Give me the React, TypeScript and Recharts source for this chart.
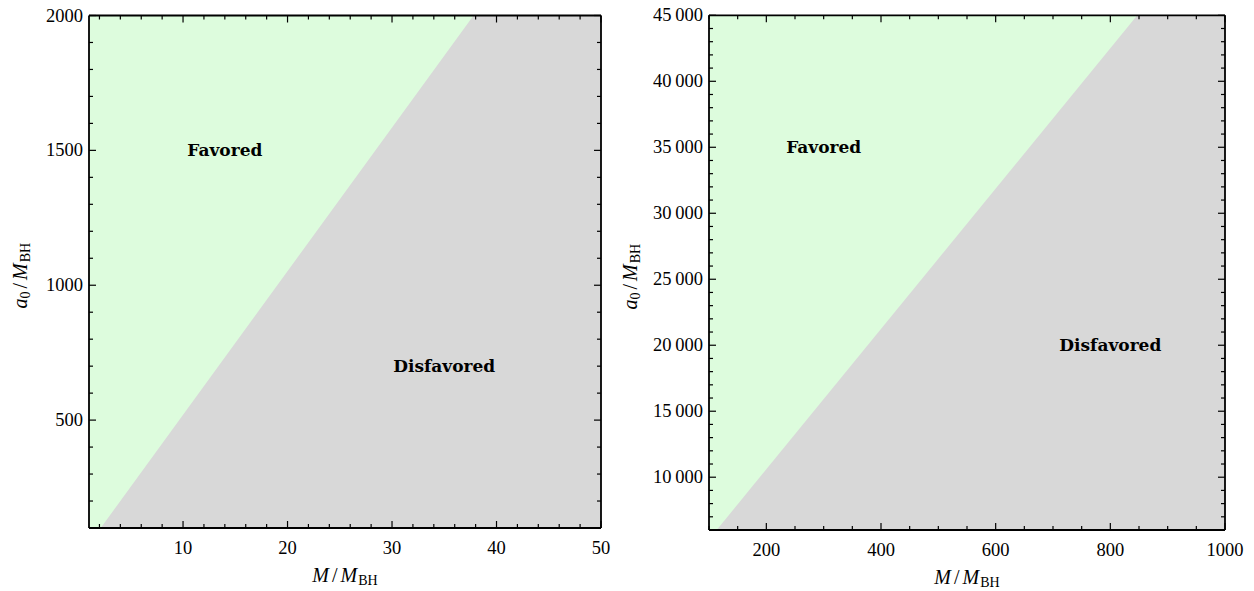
import { ComposedChart, Area, XAxis, YAxis, CartesianGrid, ReferenceDot, Label } from 'recharts'

// Left panel: M/M_BH in [1, 50], a0/M_BH in [100, 2000]
const LEFT_BOUNDARY_M = [2.12, 37.8, 50]
const LEFT_BOUNDARY_A = [100, 2000, 2000]
const LEFT_X_MAJOR = [10, 20, 30, 40, 50]
const LEFT_Y_MAJOR = [500, 1000, 1500, 2000]

// Right panel: M/M_BH in [100, 1000], a0/M_BH in [6000, 45000]
const RIGHT_BOUNDARY_M = [113.4, 847, 1000]
const RIGHT_BOUNDARY_A = [6000, 45000, 45000]
const RIGHT_X_MAJOR = [200, 400, 600, 800, 1000]
const RIGHT_Y_MAJOR = [10000, 15000, 20000, 25000, 30000, 35000, 40000, 45000]

const REGION_LABELS = ['Favored', 'Disfavored']
const LEFT_LABEL_POS = [[14, 1500], [35, 700]]
const RIGHT_LABEL_POS = [[300, 35000], [800, 20000]]

const GREEN = '#ddfcdd'
const GRAY = '#d8d8d8'
const SERIF = 'Liberation Serif'
const BOLD_SERIF = 'DejaVu Serif'

const steps = (from: number, to: number, step: number) => {
  const out: number[] = []
  for (let v = from; v <= to + 1e-9; v += step) out.push(v)
  return out
}

const fmt = (v: number) =>
  v >= 10000 ? `${Math.floor(v / 1000)}\u2009${String(v % 1000).padStart(3, '0')}` : String(v)

type Side = 'bottom' | 'left' | 'top' | 'right'

const makeTick = (side: Side, majors: number[]) => (props: any) => {
  const { x, y, payload } = props
  const v = payload.value
  const major = majors.includes(v)
  const len = major ? 7 : 4
  const stroke = '#000'
  if (side === 'bottom') {
    return (
      <g>
        <line x1={x} y1={y} x2={x} y2={y - len} stroke={stroke} strokeWidth={1.2} />
        {major && (
          <text x={x} y={y + 26} textAnchor="middle" fontSize={18.5} fontFamily={SERIF} fill="#000">
            {fmt(v)}
          </text>
        )}
      </g>
    )
  }
  if (side === 'left') {
    return (
      <g>
        <line x1={x} y1={y} x2={x + len} y2={y} stroke={stroke} strokeWidth={1.2} />
        {major && (
          <text x={x - 6} y={y + 6} textAnchor="end" fontSize={18.5} fontFamily={SERIF} fill="#000">
            {fmt(v)}
          </text>
        )}
      </g>
    )
  }
  if (side === 'top') {
    return <line x1={x} y1={y} x2={x} y2={y + len} stroke={stroke} strokeWidth={1.2} />
  }
  return <line x1={x} y1={y} x2={x - len} y2={y} stroke={stroke} strokeWidth={1.2} />
}

const xTitle = (props: any) => {
  const { x, y, width } = props.viewBox
  return (
    <text x={x + width / 2} y={y + 54} textAnchor="middle" fontSize={20} fontFamily={SERIF} fill="#000">
      <tspan fontStyle="italic">M</tspan>
      <tspan dx={3}>/</tspan>
      <tspan dx={3} fontStyle="italic">M</tspan>
      <tspan fontSize={14} dy={3} dx={1}>BH</tspan>
    </text>
  )
}

const yTitle = (offset: number) => (props: any) => {
  const { x, y, width, height } = props.viewBox
  const cx = x + width - offset
  const cy = y + height / 2 + 4
  return (
    <text
      x={cx}
      y={cy}
      transform={`rotate(-90 ${cx} ${cy})`}
      textAnchor="middle"
      fontSize={20}
      fontFamily={SERIF}
      fill="#000"
    >
      <tspan fontStyle="italic">a</tspan>
      <tspan fontSize={14} dy={3}>0</tspan>
      <tspan dy={-3} dx={3}>/</tspan>
      <tspan dx={3} fontStyle="italic">M</tspan>
      <tspan fontSize={14} dy={3} dx={1}>BH</tspan>
    </text>
  )
}

interface PanelProps {
  left: number
  width: number
  margin: { top: number; right: number; bottom: number; left: number }
  boundaryM: number[]
  boundaryA: number[]
  xDomain: [number, number]
  yDomain: [number, number]
  xTicks: number[]
  yTicks: number[]
  xMajor: number[]
  yMajor: number[]
  labelPos: number[][]
  yTitleOffset: number
}

function Panel(p: PanelProps) {
  const data = p.boundaryM.map((m, i) => ({ m, a: p.boundaryA[i] }))
  const axisLine = { stroke: '#000', strokeWidth: 1.8 }
  // axes take 1px each, so the margins are the plot edges minus 1
  const margin = {
    top: p.margin.top - 1,
    right: p.margin.right - 1,
    bottom: p.margin.bottom - 1,
    left: p.margin.left - 1,
  }
  return (
    <div style={{ position: 'absolute', left: p.left, top: 0 }}>
      <ComposedChart width={p.width} height={591} data={data} margin={margin}>
        <CartesianGrid xAxisId="b" yAxisId="l" horizontal={false} vertical={false} fill={GREEN} fillOpacity={1} />
        <Area
          xAxisId="b"
          yAxisId="l"
          type="linear"
          dataKey="a"
          baseValue={p.yDomain[0]}
          fill={GRAY}
          fillOpacity={1}
          stroke="none"
          isAnimationActive={false}
          activeDot={false}
        />
        <XAxis
          xAxisId="b"
          type="number"
          dataKey="m"
          domain={p.xDomain}
          allowDataOverflow
          ticks={p.xTicks}
          interval={0}
          height={1}
          tickSize={0}
          tickMargin={0}
          axisLine={axisLine}
          tick={makeTick('bottom', p.xMajor)}
        >
          <Label content={xTitle} />
        </XAxis>
        <XAxis
          xAxisId="t"
          orientation="top"
          type="number"
          dataKey="m"
          domain={p.xDomain}
          allowDataOverflow
          ticks={p.xTicks}
          interval={0}
          height={1}
          tickSize={0}
          tickMargin={0}
          axisLine={axisLine}
          tick={makeTick('top', p.xMajor)}
        />
        <YAxis
          yAxisId="l"
          type="number"
          domain={p.yDomain}
          allowDataOverflow
          ticks={p.yTicks}
          interval={0}
          width={1}
          tickSize={0}
          tickMargin={0}
          axisLine={axisLine}
          tick={makeTick('left', p.yMajor)}
        >
          <Label content={yTitle(p.yTitleOffset)} />
        </YAxis>
        <YAxis
          yAxisId="r"
          orientation="right"
          type="number"
          domain={p.yDomain}
          allowDataOverflow
          ticks={p.yTicks}
          interval={0}
          width={1}
          tickSize={0}
          tickMargin={0}
          axisLine={axisLine}
          tick={makeTick('right', p.yMajor)}
        />
        {REGION_LABELS.map((text, i) => (
          <ReferenceDot
            key={text}
            xAxisId="b"
            yAxisId="l"
            x={p.labelPos[i][0]}
            y={p.labelPos[i][1]}
            r={0}
            fill="none"
            stroke="none"
            label={{
              value: text,
              position: 'center',
              fill: '#000',
              fontSize: 17,
              fontWeight: 'bold',
              fontFamily: BOLD_SERIF,
            }}
          />
        ))}
      </ComposedChart>
    </div>
  )
}

export default function App() {
  return (
    <div style={{ position: 'absolute', left: 0, top: 0, width: 1254, height: 591, background: '#fff' }}>
      <Panel
        left={0}
        width={620}
        margin={{ top: 15.5, right: 19, bottom: 63, left: 89 }}
        boundaryM={LEFT_BOUNDARY_M}
        boundaryA={LEFT_BOUNDARY_A}
        xDomain={[1, 50]}
        yDomain={[100, 2000]}
        xTicks={steps(2, 50, 2)}
        yTicks={steps(100, 2000, 100)}
        xMajor={LEFT_X_MAJOR}
        yMajor={LEFT_Y_MAJOR}
        labelPos={LEFT_LABEL_POS}
        yTitleOffset={62}
      />
      <Panel
        left={620}
        width={634}
        margin={{ top: 15.3, right: 29, bottom: 61, left: 89 }}
        boundaryM={RIGHT_BOUNDARY_M}
        boundaryA={RIGHT_BOUNDARY_A}
        xDomain={[100, 1000]}
        yDomain={[6000, 45000]}
        xTicks={steps(100, 1000, 50)}
        yTicks={steps(6000, 45000, 1000)}
        xMajor={RIGHT_X_MAJOR}
        yMajor={RIGHT_Y_MAJOR}
        labelPos={RIGHT_LABEL_POS}
        yTitleOffset={72}
      />
    </div>
  )
}
